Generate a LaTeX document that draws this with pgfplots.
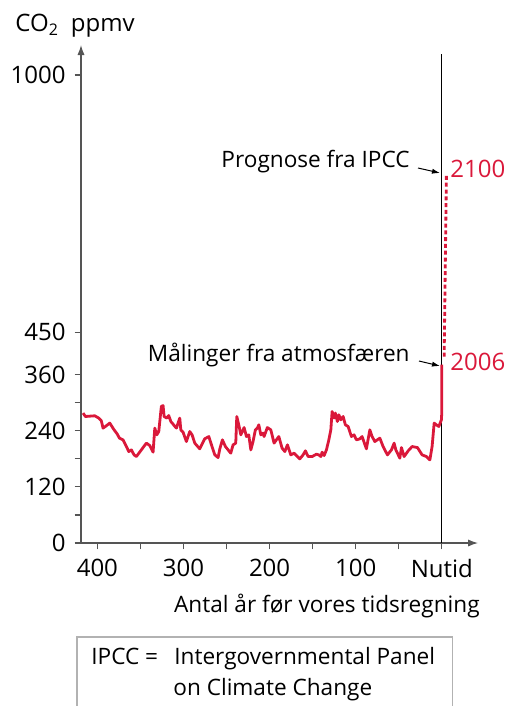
\documentclass[border=0pt]{standalone}
\usepackage{fontspec}
\setmainfont{Open Sans}
\usepackage{pgfplots}
\usepackage{pgfplotstable}
\pgfplotsset{compat=1.18}
\usetikzlibrary{arrows.meta}

\definecolor{co2red}{RGB}{218,24,58}
\definecolor{axgray}{RGB}{85,85,85}

% CO2 (ppmv) against thousands of years before present
\pgfplotstableread{
kyr   co2
416.6 277.6
413.9 270.3
403.0 271.8
398.4 266.9
395.4 261.1
393.4 245.5
390.7 248.9
385.6 256.2
380.6 241.8
376.8 232.6
374.4 224.1
370.2 220.4
366.3 206.1
363.5 195.4
360.5 199.0
357.4 188.3
354.7 184.7
348.9 199.0
343.1 213.4
339.1 208.2
335.3 194.1
333.3 245.5
331.0 231.1
328.7 238.2
325.7 291.7
323.7 293.8
322.5 270.3
319.4 266.9
317.1 272.4
314.7 259.6
312.1 254.0
310.9 251.0
308.2 245.5
304.3 266.9
303.1 241.8
300.5 236.9
296.6 216.8
292.7 238.2
290.0 231.1
286.9 213.4
281.1 201.2
275.3 222.6
270.6 227.5
265.6 199.0
263.6 188.3
259.8 182.5
257.8 201.2
254.8 220.4
251.3 206.1
245.1 192.0
242.4 209.7
239.3 213.4
238.1 270.3
235.8 252.5
233.4 231.1
229.6 246.7
226.9 227.5
224.2 231.1
221.8 199.0
219.2 216.8
216.5 241.8
214.2 245.5
212.5 252.5
210.2 231.1
207.5 234.8
206.4 227.5
202.6 246.7
198.6 241.8
194.8 213.4
192.1 220.4
189.3 227.5
185.5 202.7
182.3 195.4
179.3 209.7
175.4 188.3
171.5 192.0
167.7 184.7
164.9 179.8
161.1 188.3
158.4 196.9
155.3 184.7
150.6 184.7
145.6 189.8
142.9 188.3
140.5 184.7
139.0 194.1
136.7 186.8
134.0 199.0
131.2 220.4
128.9 241.8
127.4 281.0
125.1 266.9
123.6 277.6
121.3 259.6
119.6 273.9
117.3 263.2
114.6 270.3
112.0 252.5
108.8 248.9
105.0 227.5
101.9 231.1
99.2  220.4
95.2  222.6
92.6  227.5
87.6  201.2
83.6  241.8
81.0  227.5
77.8  216.8
72.0  224.1
68.2  206.1
63.2  188.3
58.5  199.0
55.4  213.4
53.4  199.0
48.8  181.3
46.9  203.9
43.8  184.7
39.1  196.9
34.5  206.1
28.3  203.9
22.9  188.3
17.9  184.7
13.9  177.6
11.3  206.1
8.9   256.2
6.3   252.5
3.5   248.9
0.5   263.2
0.0   281.0
0.0   381.0
}\vostok

% IPCC projection, 2006 -> 2100
\pgfplotstableread{
kyr   co2
-2.7  398
-5.3  785
}\ipcc

\begin{document}
\begin{tikzpicture}[font=\fontsize{11.3}{13.3}\selectfont]
\path[use as bounding box] (0,0) rectangle (255.5pt,-353pt);

\begin{axis}[
    at={(40.5pt,-271.5pt)}, anchor=south west,
    width=198.5pt, height=249pt, scale only axis,
    xmin=-419, xmax=42,
    ymin=0, ymax=1064,
    axis lines=left,
    axis line style={axgray, line width=0.6pt, -{Latex[length=5pt,width=3.6pt]}},
    tick align=outside,
    major tick length=3.2pt, minor tick length=3.2pt,
    tick style={axgray, line width=0.6pt},
    xtick={-400,-300,-200,-100,0},
    xticklabels={400,300,200,100,Nutid},
    minor xtick={-350,-250,-150,-50},
    ytick={0,120,240,360,450,1000},
    yticklabels={0,120,240,360,450,1000},
    minor ytick={60,180,300},
    /pgf/number format/assume math mode=true,
    ticklabel style={font=\fontsize{12}{14}\selectfont},
    xticklabel style={anchor=north, yshift=-1.5pt},
    yticklabel style={anchor=east, xshift=-1pt},
    clip=false,
]
\draw[black, line width=0.65pt] (axis cs:0,0) -- (axis cs:0,1044);
\addplot[co2red, line width=1.4pt, line join=round, no markers]
    table[x expr=-\thisrow{kyr}, y=co2] {\vostok};
\addplot[co2red, line width=1.4pt, dash pattern=on 2pt off 1.4pt, no markers]
    table[x expr=-\thisrow{kyr}, y=co2] {\ipcc};
\end{axis}

\begin{scope}[x=0.5pt, y=-0.5pt]
\node[anchor=base west, inner sep=0, font=\fontsize{12}{14}\selectfont] at (15,32) {CO\textsubscript{2}\hspace{0.5em}ppmv};
\node[anchor=base east, inner sep=0] at (480,612) {Antal år før vores tidsregning};
\node[anchor=base east, inner sep=0] at (410,167) {Prognose fra IPCC};
\draw[line width=0.5pt, -{Latex[length=4pt,width=2.6pt]}] (418,168) -- (440,173);
\node[anchor=base east, inner sep=0] at (410,361) {Målinger fra atmosfæren};
\draw[line width=0.5pt, -{Latex[length=4pt,width=2.6pt]}] (419,361) -- (440,366);
\node[co2red, anchor=base west, inner sep=0, font=\fontsize{12}{14}\selectfont] at (450,177) {2100};
\node[co2red, anchor=base west, inner sep=0, font=\fontsize{12}{14}\selectfont] at (450,370) {2006};
\draw[gray!60, line width=0.6pt] (77,706) -- (77,637) -- (452.7,637) -- (452.7,706);
\node[anchor=base west, inner sep=0] at (91,664) {IPCC =};
\node[anchor=base west, inner sep=0] at (174,664) {Intergovernmental Panel};
\node[anchor=base west, inner sep=0] at (173,695) {on Climate Change};
\end{scope}
\end{tikzpicture}
\end{document}
